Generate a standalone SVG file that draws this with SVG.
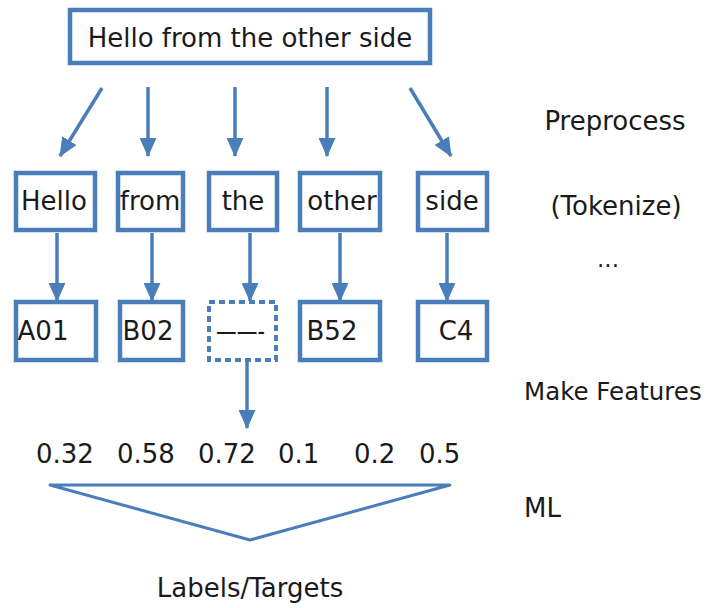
<svg xmlns="http://www.w3.org/2000/svg" width="710" height="608" viewBox="0 0 710 608">
<style>
.box{fill:#fff;stroke:#4a7ebb;stroke-width:4.5}
.dash{fill:#fff;stroke:#4a7ebb;stroke-width:4;stroke-dasharray:6 4}
.t{font-family:"DejaVu Sans",Verdana,sans-serif;font-size:26px;fill:#1a1a1a}
.c{text-anchor:middle}
.ln{stroke:#4a7ebb;stroke-width:3.5;fill:none}
</style>
<defs>
<marker id="ah" markerUnits="userSpaceOnUse" markerWidth="19" markerHeight="17" refX="17" refY="8" orient="auto" viewBox="0 0 18 16">
<path d="M0,0 L18,8 L0,16 Z" fill="#4a7ebb"/>
</marker>
</defs>
<rect width="710" height="608" fill="#fff"/>
<g id="sentence"><rect class="box" x="70" y="10" width="360" height="53"/><text class="t c" x="250" y="47">Hello from the other side</text></g>
<g id="tok-hello"><rect class="box" x="16" y="173" width="79" height="57"/><text class="t c" x="54" y="210">Hello</text></g>
<g id="tok-from"><rect class="box" x="118" y="173" width="65" height="57"/><text class="t c" x="150" y="210">from</text></g>
<g id="tok-the"><rect class="box" x="209" y="173" width="68" height="57"/><text class="t c" x="243" y="210">the</text></g>
<g id="tok-other"><rect class="box" x="300" y="173" width="80" height="57"/><text class="t c" x="342" y="210">other</text></g>
<g id="tok-side"><rect class="box" x="418" y="173" width="69" height="57"/><text class="t c" x="452" y="210">side</text></g>
<g id="f-a01"><rect class="box" x="16" y="302" width="80" height="58"/><text class="t c" x="43" y="340">A01</text></g>
<g id="f-b02"><rect class="box" x="120" y="302" width="63" height="58"/><text class="t c" x="148" y="340">B02</text></g>
<g id="f-missing"><rect class="dash" x="209" y="302" width="67" height="58"/><text class="t" x="216" y="340" textLength="49" lengthAdjust="spacingAndGlyphs">——-</text></g>
<g id="f-b52"><rect class="box" x="300" y="302" width="80" height="58"/><text class="t c" x="332" y="340">B52</text></g>
<g id="f-c4"><rect class="box" x="418" y="302" width="69" height="58"/><text class="t c" x="456" y="340">C4</text></g>
<g id="values">
<text class="t" x="36" y="463">0.32</text>
<text class="t" x="117" y="463">0.58</text>
<text class="t" x="198" y="463">0.72</text>
<text class="t" x="278" y="463">0.1</text>
<text class="t" x="354" y="463">0.2</text>
<text class="t" x="419" y="463">0.5</text>
</g>
<g id="ml"><path d="M50,485 L450,485 L250,540 Z" fill="none" stroke="#4a7ebb" stroke-width="3" stroke-linejoin="round"/></g>
<g id="target"><text class="t c" x="250" y="597">Labels/Targets</text></g>
<g id="stages">
<text class="t c" x="615" y="130">Preprocess</text>
<text class="t c" x="616" y="215">(Tokenize)</text>
<text class="t c" x="608" y="267" style="font-size:23px">...</text>
<text class="t" x="524" y="400" style="font-size:24.5px">Make Features</text>
<text class="t" x="524" y="517">ML</text>
</g>
<g id="connectors">
<line class="ln" x1="102" y1="88" x2="60" y2="156" marker-end="url(#ah)"/>
<line class="ln" x1="148" y1="87" x2="148" y2="156" marker-end="url(#ah)"/>
<line class="ln" x1="235" y1="87" x2="235" y2="156" marker-end="url(#ah)"/>
<line class="ln" x1="327" y1="87" x2="327" y2="156" marker-end="url(#ah)"/>
<line class="ln" x1="410" y1="88" x2="451" y2="156" marker-end="url(#ah)"/>
<line class="ln" x1="57" y1="233" x2="57" y2="301" marker-end="url(#ah)"/>
<line class="ln" x1="152" y1="233" x2="152" y2="301" marker-end="url(#ah)"/>
<line class="ln" x1="250" y1="233" x2="250" y2="301" marker-end="url(#ah)"/>
<line class="ln" x1="340" y1="233" x2="340" y2="301" marker-end="url(#ah)"/>
<line class="ln" x1="447" y1="233" x2="447" y2="301" marker-end="url(#ah)"/>
<line class="ln" x1="247" y1="362" x2="247" y2="428" marker-end="url(#ah)"/>
</g>
</svg>
